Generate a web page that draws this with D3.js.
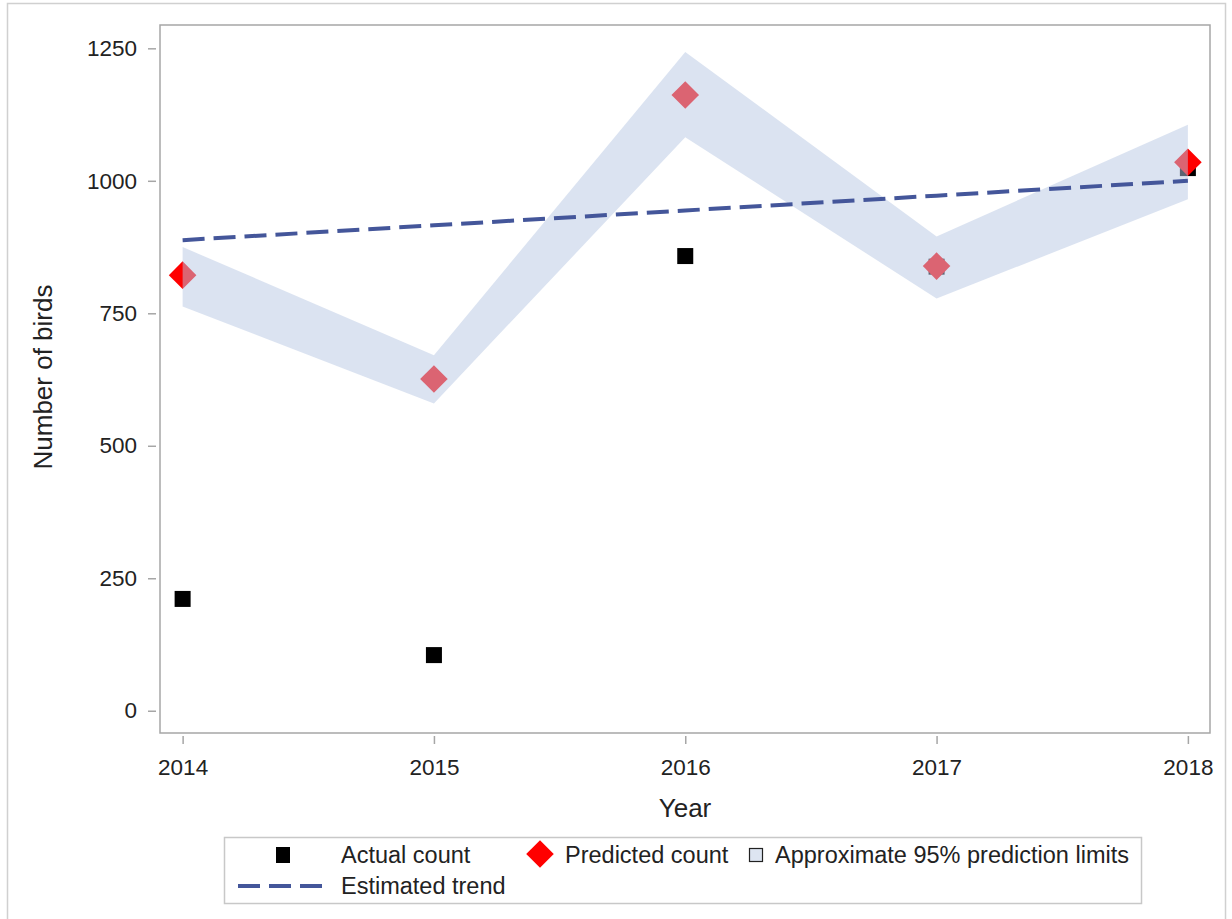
<!DOCTYPE html>
<html>
<head>
<meta charset="utf-8">
<script src="https://cdn.jsdelivr.net/npm/d3@7"></script>
<style>
  body { margin: 0; background: #fff; }
  text { font-family: "Liberation Sans", Arial, sans-serif; fill: #222; }
</style>
</head>
<body>
<div id="chart"></div>
<script>
"use strict";

// data
var years = [2014, 2015, 2016, 2017, 2018];
var actualCount = [211, 105, 858, 838, 1024];
var predictedCount = [822, 626, 1162, 839, 1035];
var lowerLimit = [763, 580, 1082, 778, 965];
var upperLimit = [875, 671, 1243, 895, 1106];
var trend = [888, 916, 944, 972, 1000];
var yTicks = [0, 250, 500, 750, 1000, 1250];

var W = 1232, H = 919;
var frame = { left: 160, top: 25, right: 1210, bottom: 733 };

var x = d3.scaleLinear().domain([2013.91, 2018.088]).range([frame.left, frame.right]);
var y = d3.scaleLinear().domain([-42, 1294]).range([frame.bottom, frame.top]);

var svg = d3.select("#chart").append("svg")
  .attr("width", W).attr("height", H);

// outer border
svg.append("rect").attr("x", 7.5).attr("y", 3.5).attr("width", 1218).attr("height", 920)
  .attr("fill", "none").attr("stroke", "#d0d0d0").attr("stroke-width", 1.5);

// plot frame
svg.append("rect").attr("x", frame.left).attr("y", frame.top)
  .attr("width", frame.right - frame.left).attr("height", frame.bottom - frame.top)
  .attr("fill", "#fff").attr("stroke", "#a6a6a6").attr("stroke-width", 1.5);

var pts = years.map(function(d, i) {
  return { year: d, actual: actualCount[i], pred: predictedCount[i], lo: lowerLimit[i], hi: upperLimit[i], tr: trend[i] };
});

// actual count squares
var sq = 16;
svg.append("g").selectAll("rect").data(pts).enter().append("rect")
  .attr("x", function(d) { return x(d.year) - sq / 2; })
  .attr("y", function(d) { return y(d.actual) - sq / 2; })
  .attr("width", sq).attr("height", sq).attr("fill", "#000");

// predicted count diamonds
var diamond = d3.symbol().type(d3.symbolSquare).size(380);
svg.append("g").selectAll("path").data(pts).enter().append("path")
  .attr("d", diamond)
  .attr("transform", function(d) { return "translate(" + x(d.year) + "," + y(d.pred) + ") rotate(45)"; })
  .attr("fill", "#ff0000");

// prediction band on top, semi transparent
var area = d3.area()
  .x(function(d) { return x(d.year); })
  .y0(function(d) { return y(d.lo); })
  .y1(function(d) { return y(d.hi); });
svg.append("path").datum(pts).attr("d", area)
  .attr("fill", "rgb(184,200,228)").attr("fill-opacity", 0.5);

// trend line
var line = d3.line()
  .x(function(d) { return x(d.year); })
  .y(function(d) { return y(d.tr); });
svg.append("path").datum(pts).attr("d", line)
  .attr("fill", "none").attr("stroke", "#44569a").attr("stroke-width", 4)
  .attr("stroke-dasharray", "22,9");

// axes
var yAxis = svg.append("g").attr("transform", "translate(156,0)")
  .call(d3.axisLeft(y).tickValues(yTicks).tickFormat(d3.format("d")).tickSize(8).tickPadding(11));
var xAxis = svg.append("g").attr("transform", "translate(0,736)")
  .call(d3.axisBottom(x).tickValues(years).tickFormat(d3.format("d")).tickSize(8).tickPadding(15));
[yAxis, xAxis].forEach(function(a) {
  a.select(".domain").remove();
  a.selectAll(".tick line").attr("stroke", "#a6a6a6").attr("stroke-width", 1.5);
  a.selectAll(".tick text").style("font-size", "22.5px").attr("fill", "#222");
});

// axis titles
svg.append("text").attr("x", 685).attr("y", 817).attr("text-anchor", "middle")
  .style("font-size", "26px").text("Year");
svg.append("text").attr("transform", "translate(52,377) rotate(-90)").attr("text-anchor", "middle")
  .style("font-size", "26px").text("Number of birds");

// legend
var lg = svg.append("g");
lg.append("rect").attr("x", 224.5).attr("y", 837.5).attr("width", 917).attr("height", 66)
  .attr("fill", "#fff").attr("stroke", "#c8c8c8").attr("stroke-width", 1.5);
lg.append("rect").attr("x", 276).attr("y", 847).attr("width", 14).attr("height", 16).attr("fill", "#000");
lg.append("text").attr("x", 341).attr("y", 863).style("font-size", "23.5px").text("Actual count");
lg.append("path").attr("d", diamond).attr("transform", "translate(540,854) rotate(45)").attr("fill", "#ff0000");
lg.append("text").attr("x", 565).attr("y", 863).style("font-size", "23.5px").text("Predicted count");
lg.append("rect").attr("x", 749.5).attr("y", 848.5).attr("width", 13).attr("height", 13)
  .attr("fill", "#dde5f1").attr("stroke", "#222").attr("stroke-width", 1.2);
lg.append("text").attr("x", 775).attr("y", 863).style("font-size", "23.5px").text("Approximate 95% prediction limits");
lg.append("line").attr("x1", 238).attr("x2", 326).attr("y1", 886).attr("y2", 886)
  .attr("stroke", "#44569a").attr("stroke-width", 4).attr("stroke-dasharray", "22,9");
lg.append("text").attr("x", 341).attr("y", 894).style("font-size", "23.5px").text("Estimated trend");
</script>
</body>
</html>
